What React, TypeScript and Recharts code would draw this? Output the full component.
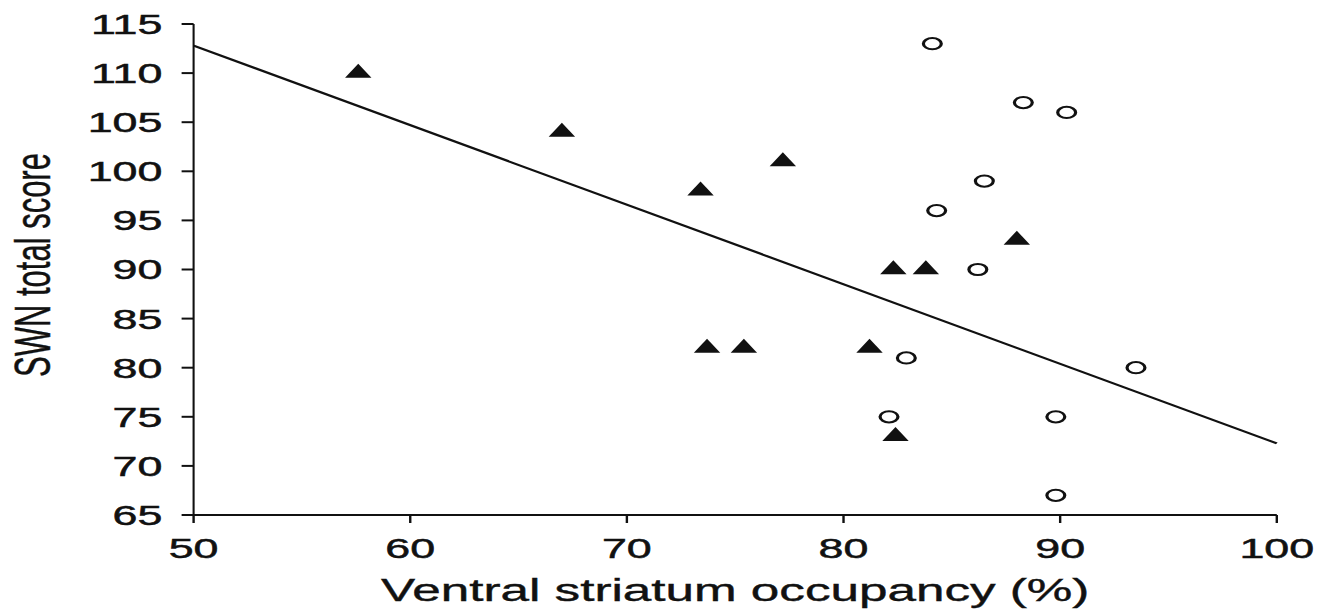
import React from 'react';
import { ScatterChart, Scatter, XAxis, YAxis, ReferenceLine, Label } from 'recharts';

const triX = [57.6, 67.0, 73.4, 77.2, 82.3, 83.8, 88.0, 73.7, 75.4, 81.2, 82.4];
const triY = [110, 104, 98, 101, 90, 90, 93, 82, 82, 82, 73];
const circX = [84.1, 88.3, 90.3, 86.5, 84.3, 86.2, 82.9, 82.1, 93.5, 89.8, 89.8];
const circY = [113, 107, 106, 99, 96, 90, 81, 75, 80, 75, 67];
const fitX = [50, 100];
const fitY = [112.8, 72.3];
const xTicks = [50, 60, 70, 80, 90, 100];
const yTicks = [65, 70, 75, 80, 85, 90, 95, 100, 105, 110, 115];

const triData = triX.map((x, i) => ({ x, y: triY[i] }));
const circData = circX.map((x, i) => ({ x, y: circY[i] }));

const FONT = '"Liberation Sans", Arial, sans-serif';
const INK = '#111';

const Triangle = (props: any) => {
  const { cx, cy } = props;
  if (cx == null || cy == null) return null;
  const h = 14;
  const w = 16.5;
  const top = cy - (2 * h) / 3;
  const bot = cy + h / 3;
  return <path d={`M${cx},${top} L${cx + w / 2},${bot} L${cx - w / 2},${bot} Z`} fill={INK} />;
};

const Ring = (props: any) => {
  const { cx, cy } = props;
  if (cx == null || cy == null) return null;
  return <circle cx={cx} cy={cy} r={5.6} fill="#fff" stroke={INK} strokeWidth={2} />;
};

const tickStyle = { fill: INK, fontSize: 28, fontFamily: FONT, stroke: INK, strokeWidth: 0.5 };

export default function App() {
  return (
    <div style={{ position: 'absolute', left: 0, top: 0, width: 1321, height: 610, overflow: 'hidden', background: '#fff' }}>
      <div style={{ width: 826, height: 610, transform: 'scaleX(1.6)', transformOrigin: '0 0', fontFamily: FONT }}>
        <ScatterChart width={826} height={610} margin={{ top: 24, right: 28, bottom: 5, left: 0 }}>
          <XAxis
            type="number"
            dataKey="x"
            domain={[50, 100]}
            ticks={xTicks}
            height={90}
            tickSize={8}
            tickMargin={15}
            stroke={INK}
            strokeWidth={2}
            tick={tickStyle}
            tickLine={{ stroke: INK, strokeWidth: 1.5 }}
          >
            <Label
              value="Ventral striatum occupancy (%)"
              position="insideBottom"
              offset={4}
              style={{ fontSize: 32, fill: INK, fontFamily: FONT, stroke: INK, strokeWidth: 0.4 }}
            />
          </XAxis>
          <YAxis
            type="number"
            dataKey="y"
            domain={[65, 115]}
            ticks={yTicks}
            width={121}
            tickSize={7.5}
            tickMargin={12}
            stroke={INK}
            strokeWidth={1.3}
            tick={tickStyle}
            tickLine={{ stroke: INK, strokeWidth: 2 }}
          >
            <Label
              content={() => (
                <text
                  x={31}
                  y={265}
                  transform="rotate(-90, 31, 265)"
                  textAnchor="middle"
                  fontSize={31}
                  fill={INK}
                  stroke={INK}
                  strokeWidth={0.3}
                  fontFamily={FONT}
                >
                  SWN total score
                </text>
              )}
            />
          </YAxis>
          <ReferenceLine
            segment={[
              { x: fitX[0], y: fitY[0] },
              { x: fitX[1], y: fitY[1] },
            ]}
            stroke={INK}
            strokeWidth={2}
            ifOverflow="visible"
          />
          <Scatter data={triData} shape={<Triangle />} isAnimationActive={false} />
          <Scatter data={circData} shape={<Ring />} isAnimationActive={false} />
        </ScatterChart>
      </div>
    </div>
  );
}
